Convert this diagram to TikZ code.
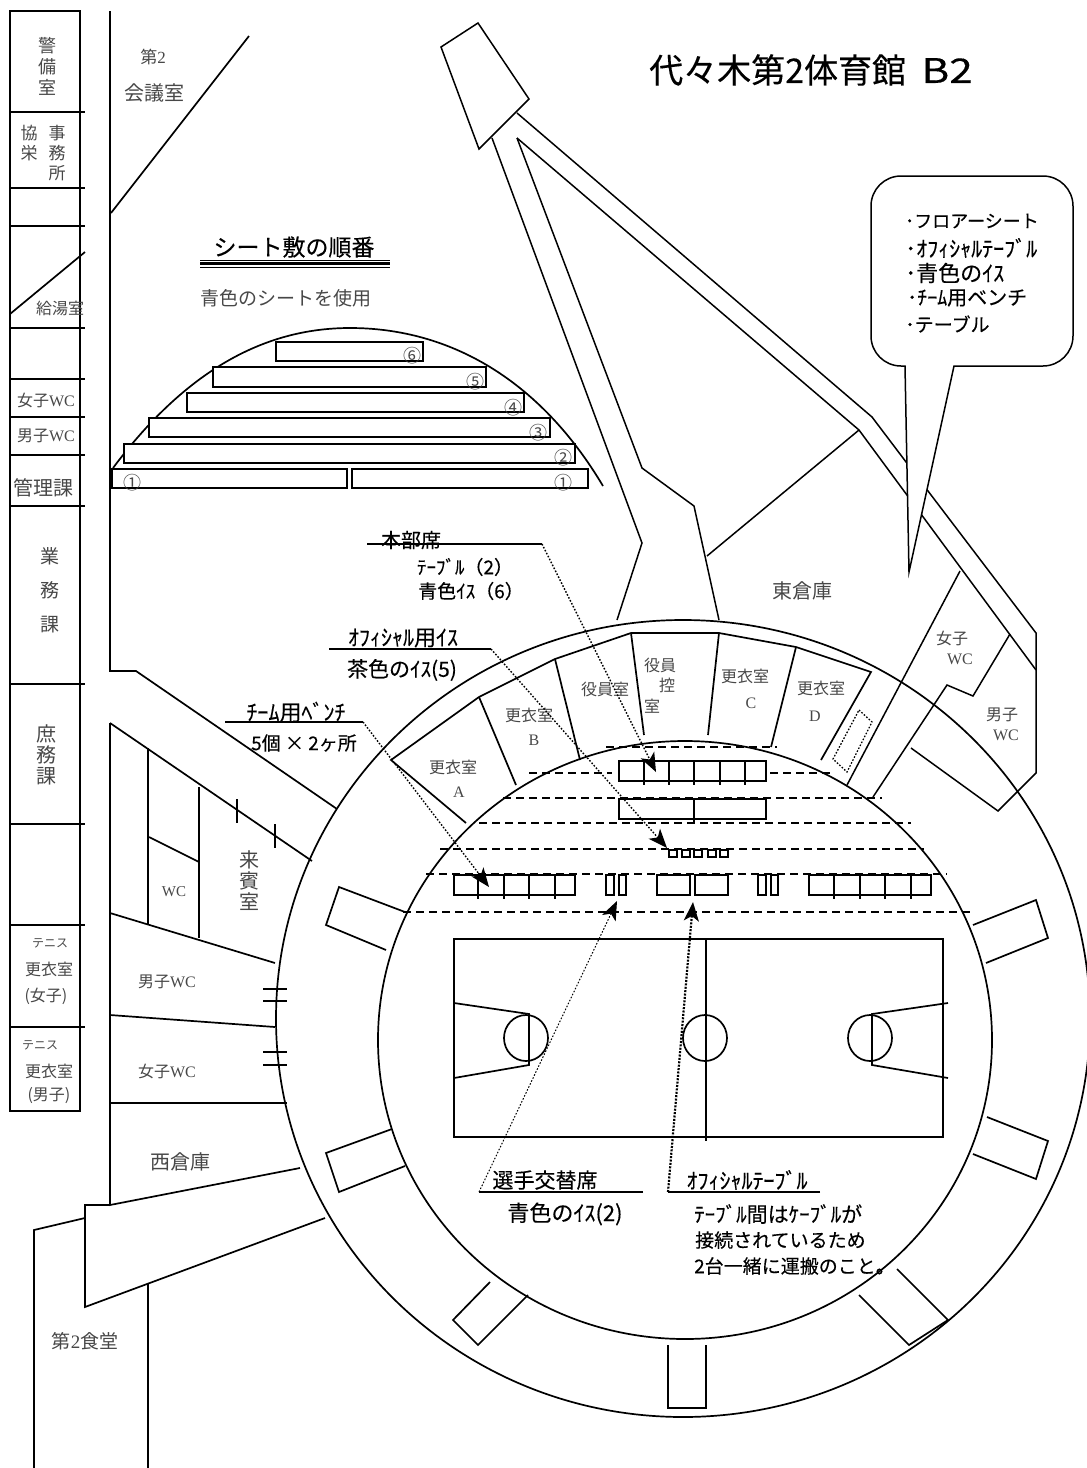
\documentclass[tikz,border=0pt]{standalone}
\usepackage{fontspec}
\setmainfont{Liberation Serif}
\newfontfamily\gothic{Noto Sans CJK JP}
\newfontfamily\gothicb[FakeBold=0.25]{Noto Sans CJK JP}
\usetikzlibrary{arrows.meta}
\newcommand{\fs}[1]{\fontsize{#1}{#1}\selectfont}
\newcommand{\lat}[1]{{\rmfamily #1}}
\tikzset{%
  wall/.style={line width=1.7pt},
  thinwall/.style={line width=1.5pt},
  seat/.style={line width=1.8pt,fill=white},
  row/.style={line width=2.6pt,dash pattern=on 8pt off 5pt},
  lead/.style={line width=1.4pt,dash pattern=on 1.6pt off 1.7pt,-{Stealth[length=19pt,width=15pt,inset=5pt]}},
  sign/.style={inner sep=0pt,align=center,font=\gothicb\fs{#1}},
  room/.style={inner sep=0pt,align=center,text=black!72,font=\gothic\fs{#1}}%
}

\begin{document}
\begin{tikzpicture}[x=1pt,y=-1pt]
      \useasboundingbox (0,0) rectangle (1087,1468);

      % left column of offices
      \draw[wall] (10,11) rectangle (80,1111);
      \foreach \yy in {112,188,226,328,379,417,455,506,684,824,925,1027}
        \draw[wall] (10,\yy) -- (85,\yy);
      \draw[wall] (10,314) -- (85,252);

      \node (rm_keibi) [room=18] at (47,66) {警\\[3pt]備\\[3pt]室};
      \node (rm_kyoei) [room=17] at (29,143) {協\\[3pt]栄};
      \node (rm_jimu) [room=17] at (57,153) {事\\[3pt]務\\[3pt]所};
      \node (rm_kyuto) [room=16] at (60,308) {給湯室};
      \node (rm_wcf) [room=16] at (46,400) {女子\lat{WC}};
      \node (rm_wcm) [room=16] at (46,436) {男子\lat{WC}};
      \node (rm_kanri) [room=20] at (43,488) {管理課};
      \node (rm_gyomu) [room=19] at (50,590) {業\\[15pt]務\\[15pt]課};
      \node (rm_shomu) [room=20] at (46,755) {庶\\[1pt]務\\[1pt]課};
      \node (rm_tennisf) [room=12] at (50,943) {テニス};
      \node (rm_kouif) [room=16] at (49,969) {更衣室};
      \node (rm_f) [room=16] at (46,996) {(女子)};
      \node (rm_tennism) [room=12] at (40,1045) {テニス};
      \node (rm_kouim) [room=16] at (49,1071) {更衣室};
      \node (rm_m) [room=16] at (49,1096) {(男子)};

      % west wing
      \draw[wall] (110,11) -- (110,671) -- (136,671) -- (337,809);
      \draw[wall] (111,213) -- (249,36);
      \draw[wall] (110,723) -- (110,1205) -- (300,1168);
      \draw[wall] (110,723) -- (312,861);
      \draw[wall] (237,799) -- (237,823);
      \draw[wall] (275,824) -- (275,848);
      \draw[wall] (148,748) -- (148,925);
      \draw[wall] (199,787) -- (199,938);
      \draw[wall] (149,837) -- (199,862);
      \draw[wall] (110,913) -- (275,963);
      \draw[wall] (110,1015) -- (275,1027);
      \draw[wall] (110,1103) -- (287,1103);
      \foreach \yy in {989,1001,1052,1065}
        \draw[wall] (263,\yy) -- (287,\yy);
      \draw[wall] (110,1205) -- (85,1205) -- (85,1307) -- (325,1218);
      \draw[wall] (85,1218) -- (34,1230) -- (34,1468);
      \draw[wall] (148,1283) -- (148,1468);

      \node (rm_dai2) [room=17] at (153,57) {第\lat{2}};
      \node (rm_kaigi) [room=20] at (154,93) {会議室};
      \node (rm_wc) [room=15] at (174,892) {\lat{WC}};
      \node (rm_raihin) [room=20] at (249,881) {来\\[1pt]賓\\[1pt]室};
      \node (rm_wwcm) [room=16] at (167,982) {男子\lat{WC}};
      \node (rm_wwcf) [room=16] at (167,1071) {女子\lat{WC}};
      \node (rm_nishi) [room=20] at (180,1162) {西倉庫};
      \node (rm_shokudo) [room=19] at (85,1341) {第\lat{2}食堂};

      % arena
      \draw[wall] (683,1018.5) ellipse [x radius=407,y radius=398.5];
      \draw[wall] (685,1040) ellipse [x radius=307,y radius=299];

      % dressing rooms
      \draw[wall] (466,823) -- (391,760) -- (479,697) -- (555,659) -- (631,633) -- (719,633)
        -- (796,647) -- (871,672) -- (821,760);
      \draw[wall] (479,697) -- (516,785);
      \draw[wall] (555,659) -- (580,760);
      \draw[wall] (631,633) -- (644,735);
      \draw[wall] (719,633) -- (708,735);
      \draw[wall] (796,647) -- (771,747);
      \draw[line width=1.3pt,dash pattern=on 1.6pt off 1.7pt] (859,710) -- (872,722) -- (847,772) -- (833,759) -- cycle;

      \node (rm_koa) [room=16] at (453,767) {更衣室};
      \node (rm_a) [room=16] at (459,792) {\lat{A}};
      \node (rm_kob) [room=16] at (529,715) {更衣室};
      \node (rm_b) [room=16] at (534,740) {\lat{B}};
      \node (rm_yakuin) [room=16] at (605,689) {役員室};
      \node (rm_yk1) [room=16] at (660,665) {役員};
      \node (rm_yk2) [room=16] at (667,685) {控};
      \node (rm_yk3) [room=16] at (652,706) {室};
      \node (rm_koc) [room=16] at (745,676) {更衣室};
      \node (rm_c) [room=16] at (751,703) {\lat{C}};
      \node (rm_kod) [room=16] at (821,688) {更衣室};
      \node (rm_d) [room=16] at (815,716) {\lat{D}};

      % openings in the ring
      \draw[wall] (405,912) -- (339,887) -- (326,925) -- (386,950);
      \draw[wall] (392,1129) -- (326,1153) -- (339,1192) -- (405,1166);
      \draw[wall] (490,1282) -- (453,1320) -- (478,1345) -- (528,1295);
      \draw[wall] (668,1345) -- (668,1408) -- (706,1408) -- (706,1345);
      \draw[wall] (859,1295) -- (909,1345) -- (948,1320) -- (897,1269);
      \draw[wall] (987,1117) -- (1048,1141) -- (1036,1179) -- (973,1154);
      \draw[wall] (986,963) -- (1048,938) -- (1036,900) -- (973,925);

      % north east wing
      \draw[thinwall] (441,47) -- (478,23) -- (529,99) -- (479,149) -- cycle;
      \draw[thinwall] (517,113) -- (872,417) -- (928,491) -- (1036,633) -- (1036,773) -- (998,811) -- (911,748);
      \draw[thinwall] (492,138) -- (642,543) -- (617,620);
      \draw[thinwall] (517,138) -- (642,468) -- (694,506) -- (719,620);
      \draw[thinwall] (517,138) -- (859,430) -- (1036,670);
      \draw[thinwall] (859,430) -- (707,556);
      \draw[thinwall] (960,571) -- (847,785);
      \draw[thinwall] (1010,634) -- (973,696) -- (947,685) -- (873,797);

      \node (rm_higashi) [room=20] at (802,591) {東倉庫};
      \node (rm_ewcf1) [room=16] at (952,638) {女子};
      \node (rm_ewcf2) [room=16] at (960,659) {\lat{WC}};
      \node (rm_ewcm1) [room=16] at (1002,715) {男子};
      \node (rm_ewcm2) [room=16] at (1006,735) {\lat{WC}};

      % sheet order
      \draw[wall] (113,468) .. controls (190,365) and (270,328) .. (350,328)
        .. controls (450,328) and (540,380) .. (603,486);
      \draw[seat] (112,469) rectangle (347,488);
      \draw[seat] (352,469) rectangle (588,488);
      \draw[seat] (124,444) rectangle (575,463);
      \draw[seat] (149,418) rectangle (550,437);
      \draw[seat] (187,393) rectangle (524,412);
      \draw[seat] (213,367) rectangle (486,387);
      \draw[seat] (276,342) rectangle (423,361);

      \node (num_1a) [room=18] at (132,483) {①};
      \node (num_1b) [room=18] at (563,483) {①};
      \node (num_2) [room=18] at (563,458) {②};
      \node (num_3) [room=18] at (538,433) {③};
      \node (num_4) [room=18] at (513,408) {④};
      \node (num_5) [room=18] at (475,382) {⑤};
      \node (num_6) [room=18] at (412,356) {⑥};

      \node (sheet_title) [sign=23] at (294,247) {シート敷の順番};
      \draw[line width=.8pt] (200,260) -- (390,260);
      \draw[line width=2.4pt] (200,263.5) -- (390,263.5);
      \draw[line width=.8pt] (200,267) -- (390,267);
      \node (sheet_note) [room=19] at (286,298) {青色のシートを使用};

      % floor rows
      \draw[row] (606,747) -- (777,747);
      \draw[row] (529,773) -- (612,773);
      \draw[row] (770,773) -- (832,773);
      \draw[row] (503,798) -- (882,798);
      \draw[row] (479,823) -- (911,823);
      \draw[row] (440,849) -- (924,849);
      \draw[row] (426,874) -- (947,874);
      \draw[row] (403,912) -- (974,912);

      % tables
      \draw[seat] (619,761) rectangle (766,781);
      \foreach \xx in {644,669,694,720,745}
        \draw[seat] (\xx,761) -- (\xx,785);
      \draw[seat] (619,799) rectangle (766,819);
      \draw[seat] (694,799) -- (694,823);
      \foreach \xx in {669,682,694,708,720}
        \draw[seat] (\xx,850) rectangle ++(8,7);
      \draw[seat] (454,875) rectangle (575,895);
      \foreach \xx in {478,504,529,555}
        \draw[seat] (\xx,875) -- (\xx,899);
      \draw[seat] (606,875) rectangle (614,895);
      \draw[seat] (619,875) rectangle (626,895);
      \draw[seat] (657,875) rectangle (690,895);
      \draw[seat] (695,875) rectangle (728,895);
      \draw[seat] (758,875) rectangle (766,895);
      \draw[seat] (771,875) rectangle (778,895);
      \draw[seat] (809,875) rectangle (931,895);
      \foreach \xx in {834,860,885,911}
        \draw[seat] (\xx,875) -- (\xx,899);

      % court
      \draw[wall] (454,939) rectangle (943,1137);
      \draw[wall] (706,939) -- (706,1141);
      \draw[wall] (705,1038) ellipse [x radius=22,y radius=23];
      \draw[wall] (526,1038) ellipse [x radius=22,y radius=23];
      \draw[wall] (870,1038) ellipse [x radius=22,y radius=23];
      \draw[wall] (454,1003) -- (529,1014) -- (529,1065) -- (454,1078);
      \draw[wall] (948,1003) -- (872,1014) -- (872,1065) -- (948,1078);

      % seat labels
      \coordinate (hq_start) at (367,544);
      \coordinate (hq_bend) at (542,544);
      \coordinate (hq_tip) at (656,772);
      \coordinate (off_start) at (329,649);
      \coordinate (off_bend) at (491,649);
      \coordinate (off_tip) at (667,848);
      \coordinate (team_start) at (225,722);
      \coordinate (team_bend) at (363,722);
      \coordinate (team_tip) at (489,887);
      \coordinate (sub_start) at (643,1192);
      \coordinate (sub_bend) at (479,1192);
      \coordinate (sub_tip) at (617,901);
      \coordinate (ot_start) at (820,1192);
      \coordinate (ot_bend) at (668,1192);
      \coordinate (ot_tip) at (693,902);

      \draw[wall] (hq_start) -- (hq_bend);
      \draw[lead] (hq_bend) -- (hq_tip);
      \draw[wall] (off_start) -- (off_bend);
      \draw[lead] (off_bend) -- (off_tip);
      \draw[wall] (team_start) -- (team_bend);
      \draw[lead] (team_bend) -- (team_tip);
      \draw[wall] (sub_start) -- (sub_bend);
      \draw[lead,line width=1pt] (sub_bend) -- (sub_tip);
      \draw[wall] (ot_start) -- (ot_bend);
      \draw[lead,line width=2.2pt,dash pattern=on 2pt off 1.4pt] (ot_bend) -- (ot_tip);

      \node (hq_name) [sign=20] at (411,540) {本部席};
      \node (hq_table) [sign=19] at (465,567) {ﾃｰﾌﾞﾙ（2）};
      \node (hq_chair) [sign=19] at (471,591) {青色ｲｽ（6）};
      \node (off_name) [sign=22] at (403,638) {ｵﾌｨｼｬﾙ用ｲｽ};
      \node (off_chair) [sign=21] at (402,670) {茶色のｲｽ(5)};
      \node (team_name) [sign=22] at (296,712) {ﾁｰﾑ用ﾍﾞﾝﾁ};
      \node (team_count) [sign=19] at (304,743) {5個 × 2ヶ所};
      \node (sub_name) [sign=21] at (545,1180) {選手交替席};
      \node (sub_chair) [sign=22] at (565,1214) {青色のｲｽ(2)};
      \node (ot_name) [sign=22] at (747,1180) {ｵﾌｨｼｬﾙﾃｰﾌﾞﾙ};
      \node (ot_note1) [sign=21,anchor=west] at (694,1214) {ﾃｰﾌﾞﾙ間はｹｰﾌﾞﾙが};
      \node (ot_note2) [sign=19,anchor=west] at (695,1240) {接続されているため};
      \node (ot_note3) [sign=19,anchor=west] at (694,1266) {2台一緒に運搬のこと。};

      % title and speech bubble
      \node (title) [sign=34,anchor=west] at (649,70) {代々木第2体育館\ \ \scalebox{1.25}[1]{B2}};

      \draw[thinwall,fill=white] (905,366) -- (909,572) -- (954,366) [rounded corners=30pt]
        -- (1073,366) -- (1073,176) -- (871,176) -- (871,366) [sharp corners] -- (905,366) -- cycle;
      \node (list_1) [sign=18,anchor=west] at (905,221) {･フロアーシート};
      \node (list_2) [sign=22,anchor=west] at (905,248) {･ｵﾌｨｼｬﾙﾃｰﾌﾞﾙ};
      \node (list_3) [sign=22,anchor=west] at (905,273) {･青色のｲｽ};
      \node (list_4) [sign=20,anchor=west] at (907,298) {･ﾁｰﾑ用ベンチ};
      \node (list_5) [sign=19,anchor=west] at (905,324) {･テーブル};
    \end{tikzpicture}
\end{document}
